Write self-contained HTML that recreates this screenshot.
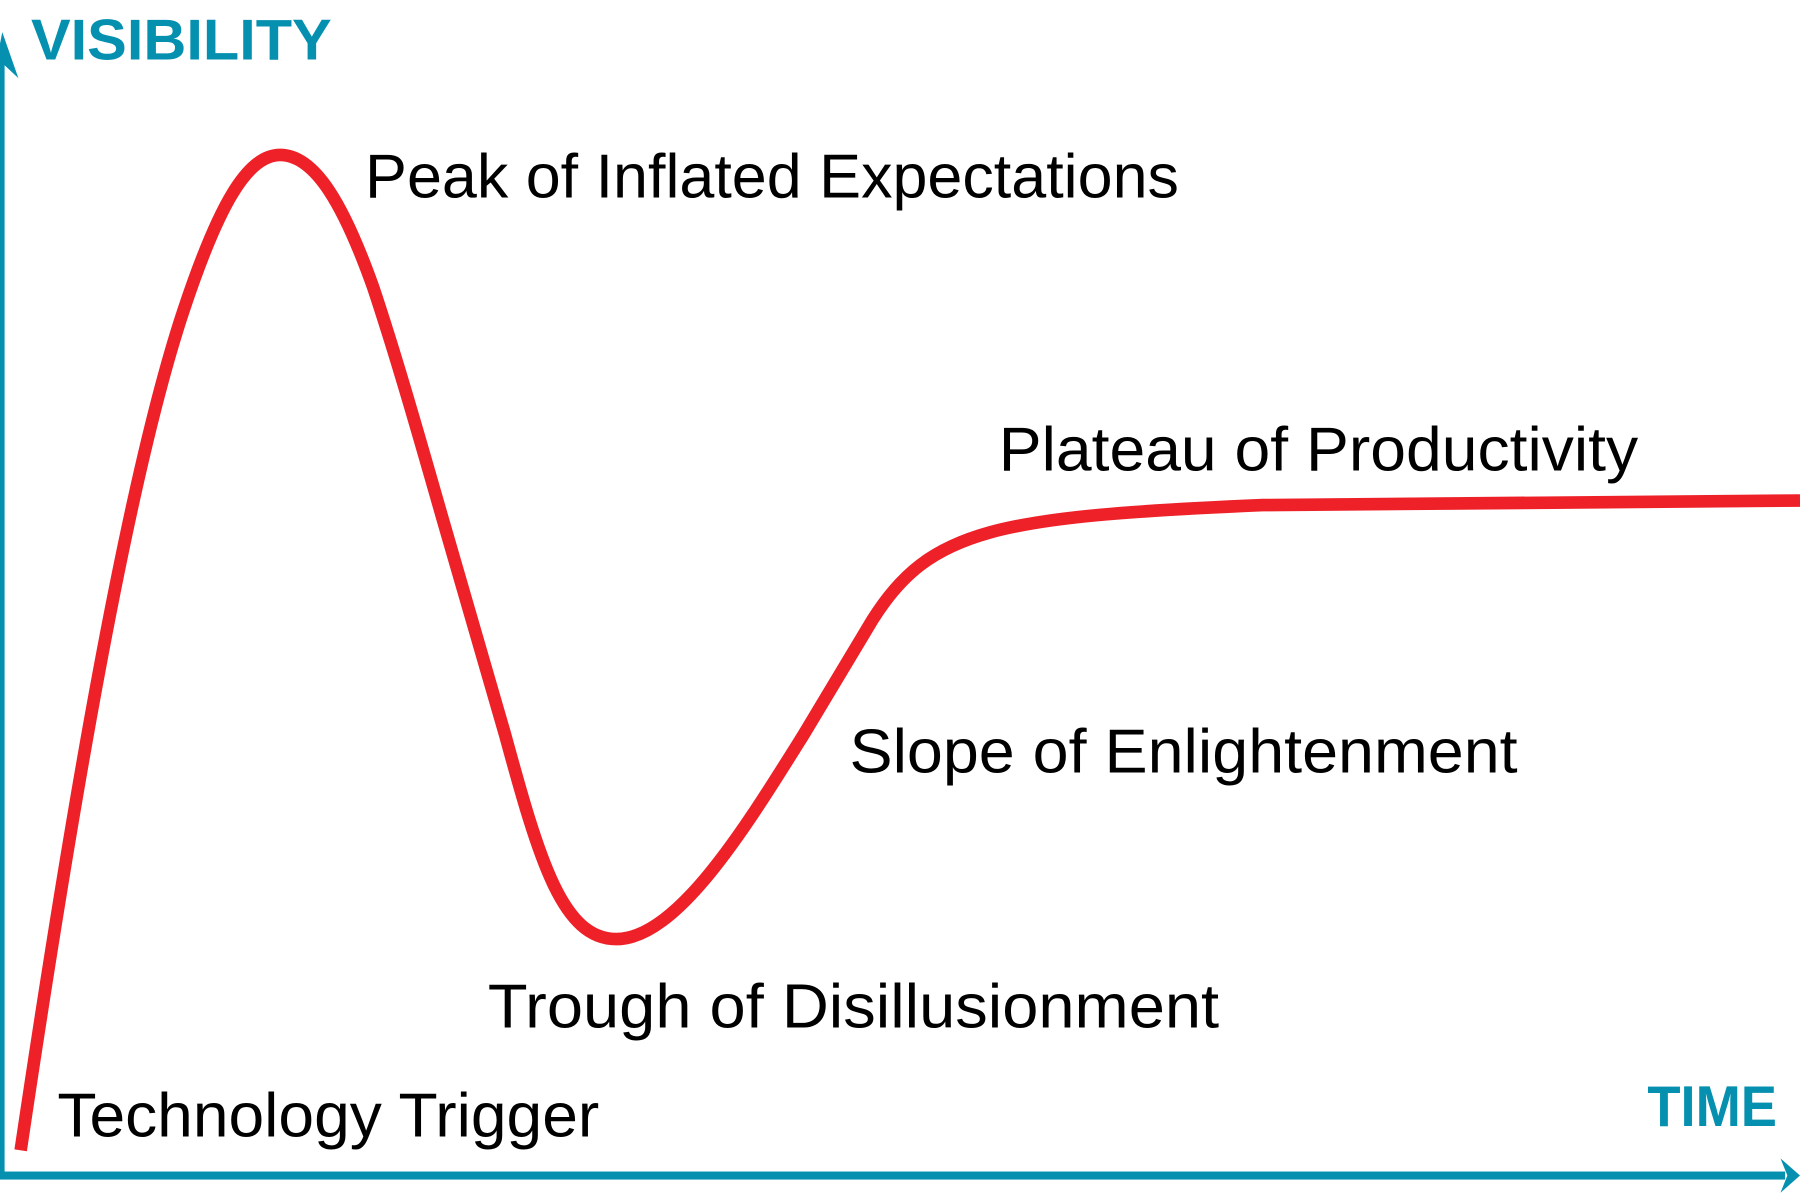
<!DOCTYPE html>
<html><head><meta charset="utf-8"><style>html,body{margin:0;padding:0;background:#fff;width:1800px;height:1200px;overflow:hidden}</style></head>
<body>
<svg width="1800" height="1200" viewBox="0 0 1568 1045.3" preserveAspectRatio="none" xmlns="http://www.w3.org/2000/svg">
<g fill="#0590b0" stroke="none">
<rect x="0" y="50" width="4" height="975"/>
<polygon points="2,28 16,68 2,55 -6,68"/>
<rect x="0" y="1020.5" width="1555" height="7"/>
<polygon points="1568,1024 1551,1039 1557,1024 1551,1009"/>
</g>
<path d="M18,1002 C60,720 110,420 160,270 C190,180 215,135 244,135 C275,135 300,180 325,250 C345,310 365,380 385,450 L440,640 C470,750 490,818 537,818 C590,818 650,720 700,640 L760,540 C810,460 870,450 1100,440 L1568,436" fill="none" stroke="#ee2129" stroke-width="11"/>
<g font-family="Liberation Sans, sans-serif" fill="#000" font-size="54">
<text x="318" y="172" textLength="709" lengthAdjust="spacingAndGlyphs">Peak of Inflated Expectations</text>
<text x="870" y="410" textLength="557" lengthAdjust="spacingAndGlyphs">Plateau of Productivity</text>
<text x="740" y="673" textLength="582" lengthAdjust="spacingAndGlyphs">Slope of Enlightenment</text>
<text x="425" y="895" textLength="637" lengthAdjust="spacingAndGlyphs">Trough of Disillusionment</text>
<text x="50" y="990" textLength="472" lengthAdjust="spacingAndGlyphs">Technology Trigger</text>
</g>
<g font-family="Liberation Sans, sans-serif" font-weight="bold" fill="#0590b0" font-size="50">
<text x="27" y="52" textLength="262" lengthAdjust="spacingAndGlyphs">VISIBILITY</text>
<text x="1435" y="981" textLength="113" lengthAdjust="spacingAndGlyphs">TIME</text>
</g>
</svg>
</body></html>
